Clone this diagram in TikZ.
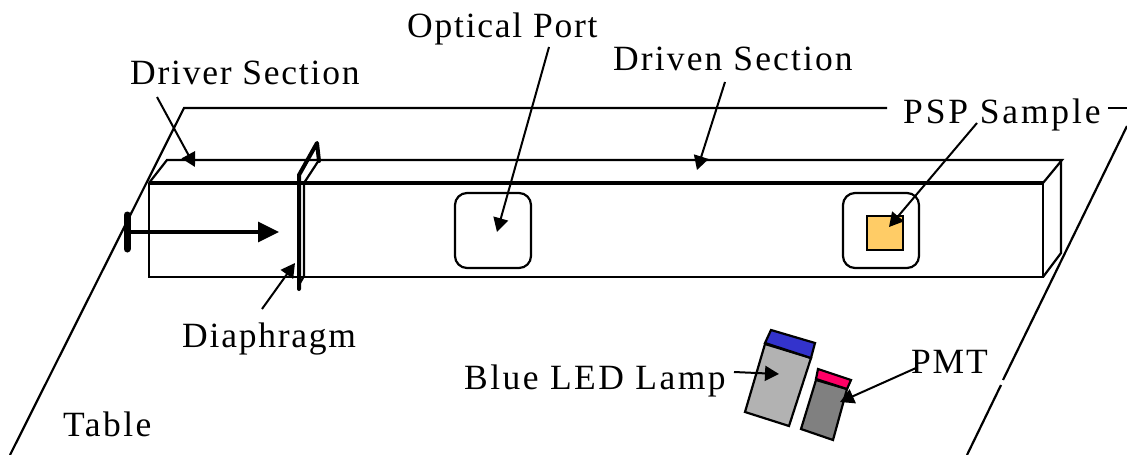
\documentclass[tikz,border=0pt]{standalone}
\usepackage{fontspec}
\setmainfont{Liberation Serif}[LetterSpace=5]
\usetikzlibrary{arrows.meta}
\definecolor{samplecol}{HTML}{FFCC66}
\definecolor{ledcol}{HTML}{3333CC}
\definecolor{pmtcol}{HTML}{FF0066}
\definecolor{ledbody}{HTML}{B2B2B2}
\definecolor{pmtbody}{HTML}{808080}
\tikzset{
 lbl/.style={inner sep=0pt,font=\fontsize{35.5}{38}\selectfont,text=black,anchor=base west},
 widelbl/.style={lbl,font=\fontsize{35.5}{38}\selectfont\addfontfeature{LetterSpace=7}},
 line/.style={draw=black,line width=2.2pt},
 thick line/.style={draw=black,line width=4pt},
 ptr/.style={draw=black,line width=2pt,-{Triangle[length=14pt,width=15pt]}},
 bigptr/.style={draw=black,line width=3.4pt,-{Triangle[length=21pt,width=20pt]}},
 port/.style={line,rounded corners=12pt}
}
\begin{document}
\begin{tikzpicture}[x=1pt,y=-1pt]
\useasboundingbox (0,0) rectangle (1127,455);
% table
\draw[line] (887,108) -- (184,108) -- (10,455);
\draw[line] (1108,108) -- (1127,108);
\draw[line] (1127,126) -- (1003,380);
\draw[line] (1001,385) -- (967,455);
% duct
\draw[line] (149,183) -- (149,277) -- (1043,277) -- (1043,183);
\draw[line] (149,183) -- (167,160) -- (1062,160) -- (1043,183);
\draw[line] (1061,160) -- (1061,253) -- (1043,277);
\draw[thick line] (149,183) -- (1043,183);
% ports
\draw[port] (455,193) rectangle (531,268);
\draw[port] (843,193) rectangle (919,268);
\node[draw=black,line width=2.2pt,fill=samplecol,minimum width=36pt,minimum height=34pt,inner sep=0pt] (sample) at (885,233) {};
% diaphragm
\draw[line] (304,183) -- (319,160);
\draw[line] (304,183) -- (304,276) -- (300,283);
\draw[draw=black,line width=4pt,line cap=round,line join=round] (299,289) -- (299,175) -- (317,143) -- (319,161);
% plunger
\coordinate (plungerA) at (127,215);
\coordinate (plungerB) at (127,249);
\coordinate (plungerC) at (127,232);
\coordinate (plungerD) at (279,232);
\draw[draw=black,line width=7pt,line cap=round] (plungerA) -- (plungerB);
\draw[bigptr] (plungerC) -- (plungerD);
% lamps
\draw[line,fill=ledbody] (765,344) -- (811,358) -- (789,426) -- (745,412) -- cycle;
\draw[line,fill=ledcol] (771,330) -- (815,343) -- (811,358) -- (765,343) -- cycle;
\draw[line,fill=pmtbody] (816,380) -- (847,389) -- (833,440) -- (801,429) -- cycle;
\draw[line,fill=pmtcol] (818,369) -- (851,380) -- (847,389) -- (816,379) -- cycle;
% labels
\node[lbl] (optical) at (407,37) {Optical Port};
\node[lbl] (driver) at (130,84) {Driver Section};
\node[widelbl,font=\fontsize{35.5}{38}\selectfont\addfontfeature{LetterSpace=6}] (driven) at (613,70) {Driven Section};
\node[widelbl,font=\fontsize{35.5}{38}\selectfont\addfontfeature{LetterSpace=8}] (psp) at (903,123) {PSP Sample};
\node[lbl] (dia) at (182,347) {Diaphragm};
\node[widelbl] (led) at (464,389) {Blue LED Lamp};
\node[lbl] (pmt) at (911,373) {PMT};
\node[widelbl] (table) at (63,436) {Table};
% pointers
\coordinate (opticalS) at (549,47);
\coordinate (opticalE) at (497,232);
\coordinate (driverS) at (157,97);
\coordinate (driverE) at (195,167);
\coordinate (drivenS) at (725,82);
\coordinate (drivenE) at (697,170);
\coordinate (pspS) at (977,123);
\coordinate (pspE) at (889,227);
\coordinate (diaS) at (262,309);
\coordinate (diaE) at (295,263);
\coordinate (ledS) at (734,372);
\coordinate (ledE) at (779,374);
\coordinate (pmtS) at (916,368);
\coordinate (pmtE) at (840,402);
\draw[ptr] (opticalS) -- (opticalE);
\draw[ptr] (driverS) -- (driverE);
\draw[ptr] (drivenS) -- (drivenE);
\draw[ptr] (pspS) -- (pspE);
\draw[ptr] (diaS) -- (diaE);
\draw[ptr] (ledS) -- (ledE);
\draw[ptr] (pmtS) -- (pmtE);
\end{tikzpicture}
\end{document}
